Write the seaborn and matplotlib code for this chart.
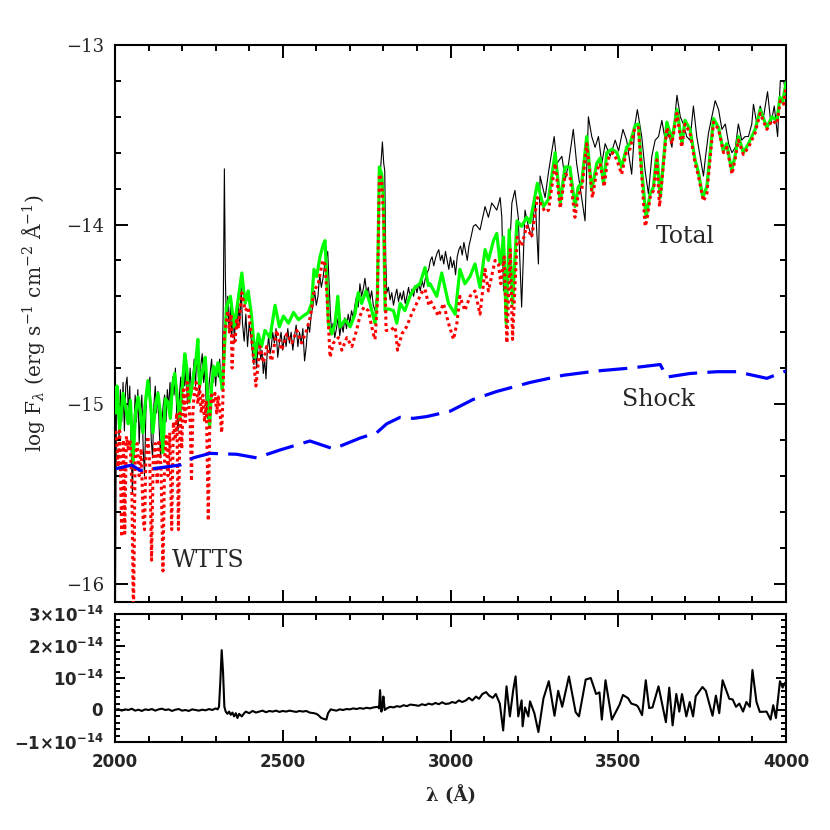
import numpy as np
import pandas as pd
import matplotlib
matplotlib.use("Agg")
import matplotlib.pyplot as plt
import seaborn as sns
from matplotlib.ticker import MultipleLocator

sns.set_theme(style="ticks")
plt.rcParams['font.family'] = ['DejaVu Serif']
plt.rcParams['mathtext.fontset'] = 'custom'
plt.rcParams['mathtext.rm'] = 'DejaVu Serif'
plt.rcParams['mathtext.it'] = 'DejaVu Serif:italic'
plt.rcParams['mathtext.bf'] = 'DejaVu Serif:bold'
plt.rcParams['mathtext.sf'] = 'DejaVu Sans:bold'

# ---------------- data (wavelength in Angstrom, log flux) ----------------
obs_wl = [2001, 2004, 2008, 2012, 2016, 2020, 2024, 2028, 2032, 2036, 2040, 2044, 2048, 2052, 2056,
          2060, 2064, 2068, 2072, 2076, 2080, 2084, 2088, 2092, 2096, 2100, 2104, 2108, 2112, 2116,
          2120, 2124, 2128, 2132, 2136, 2140, 2144, 2148, 2152, 2156, 2160, 2164, 2168, 2172, 2176,
          2180, 2184, 2188, 2192, 2196, 2200, 2204, 2208, 2212, 2216, 2220, 2224, 2228, 2232, 2236,
          2240, 2244, 2248, 2252, 2256, 2260, 2264, 2268, 2272, 2276, 2280, 2284, 2288, 2292, 2296,
          2300, 2304, 2308, 2312, 2316, 2320, 2323, 2326, 2329, 2332, 2336, 2340, 2344, 2348, 2352,
          2356, 2360, 2364, 2368, 2372, 2376, 2380, 2385, 2390, 2395, 2400, 2405, 2410, 2414, 2418,
          2422, 2426, 2430, 2434, 2438, 2442, 2446, 2450, 2454, 2458, 2462, 2466, 2470, 2475, 2480,
          2485, 2490, 2495, 2500, 2505, 2510, 2515, 2520, 2525, 2530, 2535, 2540, 2545, 2550, 2555,
          2560, 2565, 2570, 2575, 2580, 2585, 2590, 2595, 2600, 2605, 2610, 2615, 2620, 2625, 2630,
          2634, 2638, 2642, 2646, 2650, 2655, 2660, 2665, 2670, 2675, 2680, 2685, 2690, 2695, 2700,
          2705, 2710, 2715, 2720, 2725, 2730, 2735, 2740, 2745, 2750, 2755, 2760, 2765, 2770, 2775,
          2780, 2784, 2788, 2792, 2797, 2801, 2804, 2807, 2810, 2815, 2820, 2825, 2830, 2835, 2840,
          2845, 2850, 2855, 2860, 2865, 2870, 2875, 2880, 2885, 2890, 2895, 2900, 2905, 2910, 2915,
          2920, 2925, 2930, 2935, 2940, 2945, 2950, 2955, 2960, 2965, 2970, 2975, 2980, 2985, 2990,
          2995, 3000, 3005, 3010, 3015, 3020, 3025, 3030, 3035, 3040, 3045, 3050, 3055, 3060, 3068,
          3075, 3088, 3103, 3113, 3123, 3138, 3148, 3153, 3158, 3166, 3173, 3183, 3192, 3202, 3212,
          3222, 3232, 3242, 3252, 3262, 3267, 3282, 3292, 3309, 3317, 3332, 3342, 3352, 3366, 3376,
          3391, 3401, 3411, 3421, 3431, 3441, 3451, 3461, 3476, 3491, 3501, 3514, 3525, 3540, 3550,
          3557, 3570, 3580, 3590, 3600, 3610, 3620, 3630, 3640, 3650, 3660, 3675, 3685, 3694, 3704,
          3714, 3724, 3734, 3744, 3754, 3759, 3769, 3779, 3789, 3799, 3809, 3819, 3829, 3839, 3849,
          3858, 3868, 3878, 3888, 3898, 3903, 3913, 3923, 3933, 3945, 3955, 3965, 3975, 3983, 3993,
          4000]
obs_logf = [-16.30, -15.05, -14.95, -15.20, -14.92, -15.10, -14.88, -15.15, -14.90, -14.85, -15.05, -14.90, -15.25, -15.50, -15.15,
            -14.95, -15.10, -14.92, -15.22, -15.05, -14.95, -15.25, -15.40, -15.05, -14.90, -14.95, -14.85, -15.20, -15.30, -15.00,
            -14.90, -15.05, -14.93, -15.15, -15.30, -15.10, -15.00, -14.95, -15.10, -14.92, -15.02, -14.88, -15.05, -14.85, -14.95,
            -14.80, -15.05, -15.15, -14.95, -14.85, -15.00, -14.78, -14.90, -14.80, -15.00, -14.92, -14.80, -14.95, -14.85, -14.75,
            -14.90, -14.70, -14.82, -14.95, -14.78, -14.72, -14.88, -14.80, -15.00, -15.08, -14.90, -14.82, -14.75, -14.88, -14.80,
            -14.90, -14.78, -14.85, -14.75, -14.88, -14.80, -14.40, -13.69, -14.30, -14.55, -14.40, -14.60, -14.45, -14.62, -14.50,
            -14.65, -14.48, -14.58, -14.45, -14.55, -14.35, -14.55, -14.65, -14.50, -14.68, -14.55, -14.62, -14.72, -14.78, -14.70,
            -14.80, -14.68, -14.62, -14.75, -14.70, -14.83, -14.75, -14.86, -14.70, -14.62, -14.72, -14.68, -14.60, -14.66, -14.58,
            -14.74, -14.66, -14.60, -14.70, -14.62, -14.68, -14.58, -14.66, -14.60, -14.70, -14.62, -14.56, -14.68, -14.60, -14.66,
            -14.58, -14.76, -14.68, -14.55, -14.60, -14.50, -14.45, -14.37, -14.45, -14.40, -14.28, -14.35, -14.30, -14.22, -14.18,
            -14.15, -14.32, -14.50, -14.60, -14.55, -14.63, -14.58, -14.52, -14.62, -14.55, -14.60, -14.52, -14.58, -14.50, -14.55,
            -14.48, -14.52, -14.45, -14.40, -14.46, -14.33, -14.40, -14.36, -14.30, -14.38, -14.35, -14.42, -14.37, -14.45, -14.48,
            -14.40, -14.20, -13.72, -13.68, -13.54, -13.66, -13.70, -14.20, -14.38, -14.35, -14.42, -14.38, -14.45, -14.40, -14.36,
            -14.43, -14.38, -14.42, -14.37, -14.44, -14.40, -14.35, -14.41, -14.36, -14.40, -14.34, -14.38, -14.33, -14.37, -14.31,
            -14.35, -14.30, -14.27, -14.25, -14.20, -14.18, -14.23, -14.19, -14.16, -14.14, -14.20, -14.17, -14.22, -14.15, -14.20,
            -14.25, -14.18, -14.24, -14.20, -14.28, -14.18, -14.14, -14.12, -14.17, -14.10, -14.15, -14.20, -14.12, -14.08, -14.01,
            -14.00, -14.03, -13.90, -13.96, -13.88, -13.92, -13.85, -13.96, -14.37, -14.25, -14.27, -13.88, -13.81, -13.96, -14.46,
            -13.92, -14.01, -14.07, -13.85, -14.22, -13.73, -13.85, -13.71, -13.51, -13.66, -13.62, -13.75, -13.66, -13.47, -13.66,
            -13.85, -13.98, -13.40, -13.51, -13.57, -13.51, -13.66, -13.55, -13.62, -13.53, -13.59, -13.47, -13.53, -13.72, -13.44,
            -13.36, -13.51, -13.70, -13.83, -13.62, -13.53, -13.51, -13.42, -13.53, -13.49, -13.57, -13.28, -13.40, -13.44, -13.51,
            -13.53, -13.34, -13.51, -13.62, -13.73, -13.64, -13.49, -13.40, -13.31, -13.36, -13.47, -13.44, -13.55, -13.60, -13.57,
            -13.44, -13.53, -13.51, -13.51, -13.44, -13.33, -13.44, -13.34, -13.40, -13.26, -13.44, -13.34, -13.51, -13.20, -13.20,
            -13.27]

total_wl = [2003, 2006, 2014, 2024, 2032, 2039, 2046, 2054, 2061, 2069, 2076, 2083, 2090, 2098, 2105,
            2113, 2120, 2128, 2135, 2143, 2150, 2158, 2165, 2171, 2178, 2185, 2193, 2200, 2208, 2214,
            2221, 2228, 2235, 2241, 2247, 2252, 2257, 2263, 2269, 2276, 2282, 2288, 2294, 2300, 2307,
            2313, 2320, 2326, 2332, 2344, 2355, 2367, 2378, 2388, 2397, 2407, 2417, 2427, 2437, 2447,
            2462, 2477, 2490, 2502, 2517, 2532, 2547, 2561, 2576, 2586, 2593, 2601, 2611, 2621, 2626,
            2631, 2636, 2646, 2656, 2664, 2671, 2686, 2701, 2715, 2725, 2735, 2748, 2760, 2775, 2782,
            2788, 2795, 2800, 2805, 2815, 2830, 2840, 2850, 2864, 2879, 2894, 2909, 2924, 2934, 2939,
            2959, 2974, 2994, 3014, 3028, 3043, 3058, 3073, 3088, 3103, 3113, 3128, 3138, 3148, 3158,
            3166, 3175, 3185, 3198, 3212, 3227, 3237, 3259, 3277, 3292, 3312, 3327, 3341, 3356, 3371,
            3381, 3391, 3406, 3421, 3436, 3446, 3456, 3466, 3481, 3496, 3510, 3525, 3535, 3550, 3560,
            3570, 3583, 3595, 3605, 3615, 3625, 3645, 3660, 3675, 3690, 3699, 3714, 3729, 3739, 3752,
            3764, 3784, 3799, 3813, 3823, 3838, 3848, 3858, 3873, 3888, 3908, 3923, 3943, 3958, 3973,
            3982, 3990, 4000]
total_logf = [-15.05, -14.90, -15.14, -14.94, -15.02, -15.11, -14.98, -15.33, -15.05, -14.96, -15.05, -15.16, -15.00, -14.87, -14.98,
              -15.16, -15.02, -14.94, -15.05, -15.27, -14.97, -14.99, -15.08, -14.90, -14.83, -14.95, -15.09, -14.92, -14.72, -14.80,
              -14.99, -14.92, -14.83, -14.76, -14.64, -14.90, -14.85, -14.80, -14.74, -14.95, -15.13, -14.90, -14.79, -14.84, -14.77,
              -14.83, -14.92, -14.70, -14.46, -14.40, -14.57, -14.42, -14.27, -14.44, -14.37, -14.51, -14.74, -14.61, -14.68, -14.59,
              -14.63, -14.45, -14.57, -14.51, -14.55, -14.49, -14.53, -14.51, -14.49, -14.44, -14.25, -14.29, -14.18, -14.11, -14.09,
              -14.29, -14.55, -14.61, -14.55, -14.40, -14.57, -14.53, -14.57, -14.50, -14.38, -14.44, -14.37, -14.44, -14.55, -14.40,
              -13.68, -13.72, -13.85, -14.48, -14.47, -14.48, -14.55, -14.44, -14.48, -14.40, -14.35, -14.33, -14.24, -14.34, -14.33,
              -14.40, -14.27, -14.44, -14.50, -14.25, -14.33, -14.29, -14.22, -14.35, -14.14, -14.20, -14.09, -14.05, -14.22, -14.07,
              -14.55, -14.03, -14.44, -13.98, -14.01, -13.96, -13.99, -13.77, -13.90, -13.86, -13.60, -13.88, -13.68, -13.68, -13.90,
              -13.79, -13.77, -13.51, -13.81, -13.66, -13.63, -13.77, -13.60, -13.58, -13.60, -13.68, -13.57, -13.55, -13.45, -13.44,
              -13.70, -13.96, -13.83, -13.79, -13.60, -13.85, -13.43, -13.53, -13.36, -13.55, -13.42, -13.47, -13.64, -13.71, -13.85,
              -13.79, -13.41, -13.46, -13.59, -13.55, -13.70, -13.62, -13.51, -13.60, -13.55, -13.47, -13.36, -13.46, -13.40, -13.42,
              -13.29, -13.32, -13.21]

wtts_wl = [2003, 2009, 2014, 2020, 2025, 2029, 2034, 2040, 2045, 2050, 2055, 2060, 2066, 2072, 2078,
           2084, 2088, 2092, 2098, 2104, 2109, 2114, 2120, 2126, 2131, 2137, 2143, 2148, 2153, 2158,
           2163, 2169, 2174, 2180, 2184, 2189, 2194, 2199, 2204, 2210, 2215, 2220, 2224, 2228, 2232,
           2237, 2242, 2247, 2252, 2257, 2262, 2267, 2272, 2278, 2283, 2288, 2293, 2298, 2303, 2308,
           2313, 2318, 2322, 2326, 2331, 2336, 2341, 2346, 2349, 2353, 2358, 2363, 2368, 2373, 2378,
           2388, 2397, 2407, 2420, 2432, 2442, 2452, 2467, 2482, 2497, 2512, 2527, 2542, 2556, 2571,
           2583, 2593, 2606, 2619, 2626, 2633, 2641, 2651, 2666, 2676, 2691, 2706, 2720, 2730, 2742,
           2755, 2770, 2775, 2782, 2788, 2795, 2802, 2808, 2820, 2835, 2842, 2855, 2869, 2884, 2899,
           2914, 2924, 2934, 2939, 2964, 2979, 2994, 3009, 3019, 3028, 3043, 3058, 3073, 3088, 3103,
           3113, 3133, 3143, 3150, 3160, 3168, 3178, 3185, 3199, 3212, 3227, 3242, 3259, 3282, 3292,
           3312, 3327, 3342, 3356, 3371, 3381, 3391, 3406, 3423, 3436, 3446, 3458, 3468, 3484, 3496,
           3510, 3525, 3535, 3550, 3560, 3570, 3580, 3585, 3595, 3605, 3615, 3623, 3645, 3660, 3675,
           3689, 3699, 3714, 3729, 3739, 3754, 3764, 3784, 3799, 3814, 3824, 3839, 3848, 3858, 3873,
           3888, 3908, 3923, 3943, 3958, 3973, 3983, 3993, 4000]
wtts_logf = [-15.15, -15.35, -15.15, -15.74, -15.20, -15.72, -15.18, -15.25, -15.20, -15.45, -16.20, -15.30, -15.22, -15.40, -15.25,
             -15.65, -15.70, -15.30, -15.18, -15.35, -15.87, -15.30, -15.22, -15.45, -15.20, -15.35, -15.93, -15.30, -15.18, -15.40,
             -15.16, -15.70, -15.10, -15.20, -15.05, -15.70, -15.05, -15.25, -14.92, -15.10, -14.88, -15.00, -15.10, -15.43, -15.05,
             -14.92, -14.88, -15.00, -14.90, -15.05, -14.95, -15.10, -14.98, -15.65, -15.05, -14.95, -15.00, -14.94, -15.05, -14.96,
             -15.05, -15.16, -14.95, -14.60, -14.55, -14.48, -14.60, -14.50, -14.80, -14.62, -14.65, -14.52, -14.58, -14.48, -14.38,
             -14.48, -14.46, -14.63, -14.90, -14.68, -14.77, -14.68, -14.76, -14.59, -14.70, -14.61, -14.66, -14.59, -14.66, -14.59,
             -14.51, -14.37, -14.33, -14.20, -14.22, -14.44, -14.74, -14.66, -14.63, -14.70, -14.63, -14.68, -14.59, -14.51, -14.46,
             -14.48, -14.61, -14.64, -14.44, -13.72, -13.75, -14.03, -14.59, -14.59, -14.57, -14.70, -14.61, -14.57, -14.50, -14.44,
             -14.38, -14.36, -14.44, -14.42, -14.51, -14.44, -14.55, -14.64, -14.55, -14.40, -14.48, -14.40, -14.37, -14.50, -14.25,
             -14.37, -14.20, -14.22, -14.33, -14.18, -14.66, -14.14, -14.64, -14.07, -14.12, -14.01, -14.07, -13.85, -13.93, -13.92,
             -13.66, -13.91, -13.72, -13.73, -13.96, -13.83, -13.81, -13.55, -13.85, -13.70, -13.66, -13.79, -13.64, -13.60, -13.64,
             -13.72, -13.59, -13.58, -13.46, -13.46, -13.73, -14.01, -13.98, -13.85, -13.81, -13.64, -13.90, -13.46, -13.55, -13.38,
             -13.57, -13.44, -13.49, -13.66, -13.73, -13.87, -13.83, -13.43, -13.47, -13.60, -13.57, -13.72, -13.64, -13.53, -13.61,
             -13.57, -13.49, -13.38, -13.47, -13.42, -13.44, -13.31, -13.33, -13.23]

shock_wl = [2003, 2050, 2075, 2154, 2194, 2233, 2283, 2363, 2422, 2492, 2581, 2651, 2730, 2780, 2810,
            2850, 2889, 2929, 2999, 3067, 3138, 3237, 3336, 3436, 3535, 3625, 3645, 3714, 3794, 3853,
            3943, 4000]
shock_logf = [-15.36, -15.34, -15.37, -15.35, -15.34, -15.30, -15.275, -15.28, -15.30, -15.256, -15.206, -15.25, -15.19, -15.16, -15.11,
              -15.074, -15.08, -15.07, -15.04, -14.975, -14.93, -14.88, -14.84, -14.816, -14.80, -14.78, -14.85, -14.83, -14.82, -14.82,
              -14.857, -14.816]

resid_wl = [2000, 2010, 2020, 2030, 2040, 2050, 2060, 2070, 2080, 2090, 2100, 2110, 2120, 2130, 2140,
            2150, 2160, 2170, 2180, 2190, 2200, 2210, 2220, 2230, 2240, 2250, 2260, 2270, 2280, 2290,
            2300, 2306, 2310, 2314, 2318, 2322, 2326, 2330, 2335, 2340, 2345, 2350, 2355, 2360, 2365,
            2370, 2378, 2385, 2390, 2400, 2410, 2420, 2430, 2440, 2450, 2460, 2470, 2480, 2490, 2500,
            2510, 2520, 2530, 2540, 2550, 2560, 2570, 2580, 2593, 2600, 2605, 2610, 2615, 2623, 2630,
            2635, 2643, 2650, 2660, 2670, 2680, 2690, 2700, 2710, 2720, 2730, 2740, 2750, 2760, 2770,
            2784, 2787, 2790, 2794, 2797, 2800, 2804, 2810, 2820, 2830, 2840, 2850, 2860, 2870, 2880,
            2895, 2905, 2915, 2925, 2935, 2945, 2955, 2965, 2975, 2985, 2995, 3005, 3015, 3025, 3035,
            3046, 3055, 3065, 3076, 3085, 3095, 3106, 3115, 3126, 3135, 3147, 3157, 3167, 3177, 3187,
            3194, 3202, 3212, 3215, 3222, 3232, 3237, 3250, 3262, 3277, 3293, 3310, 3321, 3333, 3353,
            3373, 3383, 3403, 3418, 3434, 3444, 3451, 3462, 3481, 3504, 3514, 3529, 3539, 3554, 3559,
            3571, 3582, 3592, 3602, 3620, 3642, 3652, 3662, 3673, 3682, 3690, 3703, 3713, 3723, 3731,
            3751, 3761, 3781, 3791, 3801, 3811, 3831, 3841, 3851, 3861, 3872, 3882, 3892, 3900, 3912,
            3922, 3942, 3954, 3962, 3970, 3982, 3990, 3997]
resid_flux = [0.00e-14, 0.03e-14, -0.02e-14, 0.02e-14, 0.00e-14, 0.04e-14, -0.02e-14, 0.01e-14, -0.03e-14, 0.02e-14,
              0.00e-14, 0.03e-14, -0.02e-14, 0.02e-14, 0.04e-14, 0.00e-14, 0.02e-14, -0.03e-14, 0.01e-14, 0.03e-14,
              -0.02e-14, 0.00e-14, -0.03e-14, 0.02e-14, 0.00e-14, -0.02e-14, 0.01e-14, -0.01e-14, 0.03e-14, 0.00e-14,
              0.05e-14, 0.02e-14, 0.10e-14, 0.90e-14, 1.87e-14, 1.20e-14, 0.10e-14, -0.05e-14, -0.12e-14, -0.05e-14,
              -0.15e-14, -0.08e-14, -0.20e-14, -0.10e-14, -0.25e-14, -0.12e-14, -0.20e-14, -0.10e-14, -0.05e-14, -0.10e-14,
              -0.03e-14, -0.08e-14, -0.05e-14, -0.02e-14, -0.07e-14, -0.03e-14, -0.05e-14, -0.02e-14, -0.06e-14, -0.03e-14,
              -0.05e-14, -0.02e-14, -0.04e-14, -0.06e-14, -0.03e-14, -0.05e-14, -0.03e-14, -0.08e-14, -0.10e-14, -0.12e-14,
              -0.15e-14, -0.20e-14, -0.25e-14, -0.28e-14, -0.30e-14, -0.10e-14, 0.02e-14, 0.00e-14, -0.02e-14, 0.02e-14,
              0.00e-14, 0.03e-14, 0.02e-14, 0.05e-14, 0.03e-14, 0.06e-14, 0.04e-14, 0.07e-14, 0.05e-14, 0.08e-14,
              0.10e-14, 0.05e-14, 0.62e-14, -0.05e-14, 0.10e-14, 0.42e-14, 0.00e-14, 0.05e-14, 0.10e-14, 0.08e-14,
              0.12e-14, 0.10e-14, 0.15e-14, 0.12e-14, 0.17e-14, 0.15e-14, 0.13e-14, 0.18e-14, 0.15e-14, 0.20e-14,
              0.17e-14, 0.22e-14, 0.18e-14, 0.24e-14, 0.19e-14, 0.20e-14, 0.25e-14, 0.22e-14, 0.30e-14, 0.25e-14,
              0.30e-14, 0.38e-14, 0.30e-14, 0.42e-14, 0.35e-14, 0.50e-14, 0.56e-14, 0.45e-14, 0.38e-14, 0.50e-14,
              0.20e-14, -0.64e-14, 0.74e-14, -0.20e-14, 0.63e-14, 1.05e-14, -0.20e-14, 0.30e-14, -0.51e-14, 0.08e-14,
              -0.20e-14, 0.27e-14, -0.10e-14, -0.69e-14, 0.36e-14, 0.90e-14, -0.18e-14, 0.60e-14, 0.10e-14, 1.05e-14,
              -0.07e-14, -0.20e-14, 0.95e-14, 1.00e-14, 0.50e-14, 0.55e-14, -0.30e-14, 0.93e-14, -0.30e-14, 0.17e-14,
              0.47e-14, 0.37e-14, 0.20e-14, 0.15e-14, 0.10e-14, -0.16e-14, 0.93e-14, 0.06e-14, 0.08e-14, 0.74e-14,
              -0.38e-14, 0.70e-14, -0.48e-14, 0.50e-14, -0.05e-14, 0.50e-14, -0.20e-14, 0.25e-14, -0.20e-14, 0.43e-14,
              0.72e-14, 0.60e-14, -0.18e-14, 0.45e-14, -0.10e-14, 0.93e-14, 0.35e-14, 0.33e-14, 0.10e-14, 0.20e-14,
              -0.05e-14, 0.25e-14, 0.10e-14, 1.25e-14, 0.25e-14, -0.06e-14, -0.05e-14, -0.30e-14, 0.15e-14, -0.25e-14,
              0.90e-14, 0.70e-14, 0.85e-14]

x_major = [2000, 2500, 3000, 3500, 4000]
x_major_labels = ['2000', '2500', '3000', '3500', '4000']
top_y_ticks = [-16, -15, -14, -13]
bot_y_ticks = [-1e-14, 0.0, 1e-14, 2e-14, 3e-14]
bot_y_labels = [r'$\mathsf{-1{\times}10^{-14}}$', r'$\mathsf{0}$', r'$\mathsf{10^{-14}}$',
                r'$\mathsf{2{\times}10^{-14}}$', r'$\mathsf{3{\times}10^{-14}}$']

# ---------------- figure ----------------
W = 830.0
fig = plt.figure(figsize=(8.3, 8.3), dpi=100)
ax1 = fig.add_axes([115 / W, 1 - 602 / W, 671 / W, 557 / W])
ax2 = fig.add_axes([115 / W, 1 - 742 / W, 671 / W, 128 / W])

sns.lineplot(x=obs_wl, y=obs_logf, ax=ax1, color='black', lw=0.8,
             sort=False, estimator=None, zorder=2)
sns.lineplot(x=total_wl, y=total_logf, ax=ax1, color='#00ff00', lw=2.3,
             sort=False, estimator=None, zorder=3)
sns.lineplot(x=wtts_wl, y=wtts_logf, ax=ax1, color='#ff0000', lw=2.2,
             linestyle=(0, (1, 1.1)), sort=False, estimator=None, zorder=4)
sns.lineplot(x=shock_wl, y=shock_logf, ax=ax1, color='#0000ff', lw=2.3,
             linestyle=(0, (9, 3.2)), sort=False, estimator=None, zorder=5)

sns.lineplot(x=resid_wl, y=resid_flux, ax=ax2, color='black', lw=1.5,
             sort=False, estimator=None)

for ax in (ax1, ax2):
    ax.set_xlim(2000, 4000)
    for s in ax.spines.values():
        s.set_linewidth(1.5)
        s.set_color('black')
    ax.xaxis.set_minor_locator(MultipleLocator(100))
    ax.tick_params(which='both', direction='in', top=True, right=True,
                   width=1.4, color='black')
    ax.tick_params(axis='x', which='major', length=9)
    ax.tick_params(axis='x', which='minor', length=4.5)
    ax.set_xlabel('')
    ax.set_ylabel('')

ax1.set_ylim(-16.103, -13)
ax1.set_xticks(x_major)
ax1.tick_params(axis='x', labelbottom=False)
ax1.set_yticks(top_y_ticks)
ax1.yaxis.set_minor_locator(MultipleLocator(0.2))
ax1.tick_params(axis='y', which='major', length=9, labelsize=13, pad=8)
ax1.tick_params(axis='y', which='minor', length=4.5)
ax1.set_ylabel(r'log F$_\lambda$ (erg s$^{-1}$ cm$^{-2}$ Å$^{-1}$)', fontsize=14.5)
ax1.yaxis.set_label_coords(-0.101, 0.5)

ax1.text(3699, -14.105, 'Total', fontsize=17, ha='center', va='baseline')
ax1.text(3619, -15.011, 'Shock', fontsize=17, ha='center', va='baseline')
ax1.text(2277, -15.906, 'WTTS', fontsize=17, ha='center', va='baseline')

ax2.set_ylim(-1e-14, 3e-14)
ax2.set_xticks(x_major, labels=x_major_labels, fontfamily='DejaVu Sans',
               fontweight='bold', fontsize=12)
ax2.set_yticks(bot_y_ticks, labels=bot_y_labels, fontsize=12)
ax2.yaxis.set_minor_locator(MultipleLocator(0.2e-14))
ax2.tick_params(axis='y', which='major', length=7.5, pad=8)
ax2.tick_params(axis='y', which='minor', length=3.5)
ax2.tick_params(axis='x', which='major', pad=8)
ax2.set_xlabel('λ (Å)', fontsize=13, fontweight='bold')
ax2.xaxis.set_label_coords(0.5, -0.34)

fig.savefig('out.png', dpi=100)
